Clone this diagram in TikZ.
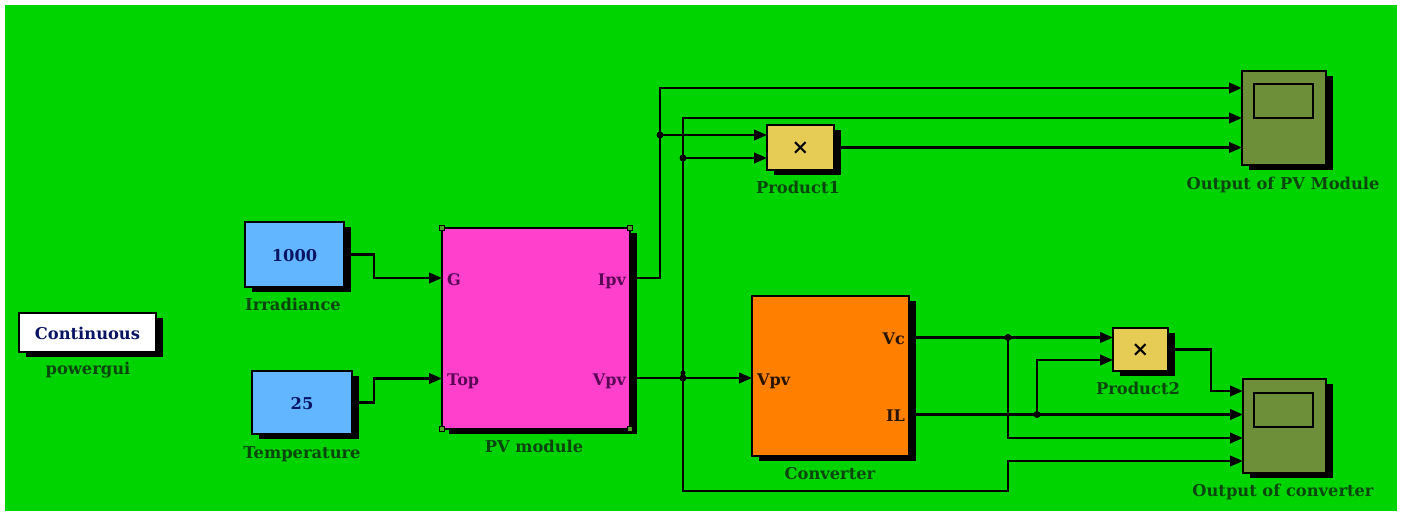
\documentclass[tikz,border=0pt]{standalone}
\usepackage{fontspec}
\setmainfont{DejaVu Serif}
\usetikzlibrary{arrows.meta,shadows}
\definecolor{bggreen}{RGB}{0,212,0}
\definecolor{pvpink}{RGB}{255,64,204}
\definecolor{convorange}{RGB}{255,128,0}
\definecolor{srcblue}{RGB}{98,182,255}
\definecolor{prodyellow}{RGB}{230,204,85}
\definecolor{scopeolive}{RGB}{110,143,58}
\definecolor{labelgreen}{RGB}{8,70,12}
\definecolor{portpurple}{RGB}{90,8,85}
\definecolor{srcnavy}{RGB}{10,20,100}
\tikzset{
	block/.style={draw=black, line width=2.4pt, inner sep=0pt, outer sep=0pt, rectangle, text height=14pt, text depth=0pt, font=\fontsize{16.3}{18}\selectfont\bfseries,
		general shadow={fill=black, shadow xshift=6.5pt, shadow yshift=-5pt}},
	caption/.style={text=labelgreen, inner sep=0pt, text height=14pt, text depth=0pt, font=\fontsize{16.3}{18}\selectfont\bfseries},
	port/.style={inner sep=0pt, text height=14pt, text depth=0pt, font=\fontsize{16}{18}\selectfont\bfseries},
	wire/.style={line width=2.4pt, -{Triangle[length=13pt,width=10.5pt]}},
	dot/.style={circle, fill=black, inner sep=0pt, minimum size=7pt},
	handle/.style={draw=black, line width=0.8pt, fill=scopeolive!70!bggreen, inner sep=0pt, minimum size=5pt}
}
\begin{document}
\begin{tikzpicture}[x=1pt,y=-1pt]
	\useasboundingbox (0,0) rectangle (1403,512);
	\fill [white] (0,0) rectangle (1403,512);
	\fill [bggreen] (5,5) rectangle (1397,511);
	% blocks
	\node (gui) at (87.5,332.5) [block, fill=white, text=srcnavy, minimum width=137pt, minimum height=39pt] {Continuous};
	\node (irr) at (294.5,254.5) [block, fill=srcblue, text=srcnavy, minimum width=99pt, minimum height=65pt] {1000};
	\node (temp) at (302,402.5) [block, fill=srcblue, text=srcnavy, minimum width=100pt, minimum height=63pt] {25};
	\node (pv) at (536,328.5) [block, fill=pvpink, minimum width=188pt, minimum height=201pt] {};
	\node (conv) at (830.5,376) [block, fill=convorange, minimum width=157pt, minimum height=160pt] {};
	\node (prodA) at (800.5,147.5) [block, fill=prodyellow, minimum width=67pt, minimum height=45pt] {\fontsize{21}{21}\selectfont ×};
	\node (prodB) at (1140.5,349.5) [block, fill=prodyellow, minimum width=55pt, minimum height=43pt] {\fontsize{21}{21}\selectfont ×};
	\node (scopeA) at (1284,118) [block, fill=scopeolive, minimum width=84pt, minimum height=94pt] {};
	\node (scopeB) at (1284.5,426) [block, fill=scopeolive, minimum width=83pt, minimum height=94pt] {};
	\node (screenA) at (1283.5,101) [draw=black, line width=2pt, minimum width=59pt, minimum height=34pt, inner sep=0pt] {};
	\node (screenB) at (1283.5,410) [draw=black, line width=2pt, minimum width=59pt, minimum height=34pt, inner sep=0pt] {};
	% handles
	\node (hA) at (pv.north west) [handle] {};
	\node (hB) at (pv.north east) [handle] {};
	\node (hC) at (pv.south west) [handle] {};
	\node (hD) at (pv.south east) [handle] {};
	% ports
	\node (pG) at (447,278) [port, anchor=west, text=portpurple] {G};
	\node (pTop) at (447,378.5) [port, anchor=west, text=portpurple] {Top};
	\node (pIpv) at (626,278) [port, anchor=east, text=portpurple] {Ipv};
	\node (pVpv) at (626,378) [port, anchor=east, text=portpurple] {Vpv};
	\node (cVpv) at (757,378.5) [port, anchor=west, text=black!85!convorange] {Vpv};
	\node (cVc) at (905,337.5) [port, anchor=east, text=black!85!convorange] {Vc};
	\node (cIL) at (905,414.5) [port, anchor=east, text=black!85!convorange] {IL};
	% captions
	\node (capgui) at (88,367.5) [caption] {powergui};
	\node (capirr) at (293,303.5) [caption] {Irradiance};
	\node (captemp) at (302,451.5) [caption] {Temperature};
	\node (cappv) at (534,445.5) [caption] {PV module};
	\node (capconv) at (830,472.5) [caption] {Converter};
	\node (capA) at (798,186.5) [caption] {Product1};
	\node (capB) at (1138,387.5) [caption] {Product2};
	\node (capsA) at (1283,182.5) [caption] {Output of PV Module};
	\node (capsB) at (1283,489.5) [caption] {Output of converter};
	% inputs of the scopes and products
	\coordinate (sA1) at (1242,88);
	\coordinate (sA2) at (1242,118);
	\coordinate (sA3) at (1242,148);
	\coordinate (sB1) at (1243,391);
	\coordinate (sB2) at (1243,414.5);
	\coordinate (sB3) at (1243,438);
	\coordinate (sB4) at (1243,461);
	\coordinate (pA1) at (767,135);
	\coordinate (pA2) at (767,158);
	\coordinate (pB1) at (1113,337.5);
	\coordinate (pB2) at (1113,360);
	% junctions
	\node (jA) at (660,135) [dot] {};
	\node (jB) at (683,158) [dot] {};
	\node (jC) at (683,378) [dot] {};
	\node (jCtop) at (683,373) [dot, minimum size=5pt] {};
	\node (jD) at (1008,337.5) [dot] {};
	\node (jE) at (1037,414.5) [dot] {};
	\coordinate (bendA) at (683,118);
	\coordinate (bendB) at (683,491);
	\coordinate (bendC) at (1008,491);
	\coordinate (bendD) at (1008,438);
	% connectors
	\draw [wire] (irr.east) -- (374,254.5) |- (pv.west |- pG);
	\draw [wire] (temp.east) -- (374,402.5) |- (pv.west |- pTop);
	\draw [wire] (pv.east |- pIpv) -| (jA.center) |- (sA1);
	\draw [wire] (jA.center) -- (pA1);
	\draw [wire] (pv.east |- pVpv) -- (conv.west |- pVpv);
	\draw [wire] (jC.center) -- (bendA) -- (sA2);
	\draw [wire] (jB.center) -- (pA2);
	\draw [wire] (jC.center) -- (bendB) -- (bendC) |- (sB4);
	\draw [wire] (prodA.east) -- (prodA.east -| sA3);
	\draw [wire] (conv.east |- cVc) -- (pB1);
	\draw [wire] (jD.center) -- (bendD) -- (sB3);
	\draw [wire] (conv.east |- cIL) -- (sB2);
	\draw [wire] (jE.center) |- (pB2);
	\draw [wire] (prodB.east) -- (1211,349.5) |- (sB1);
\end{tikzpicture}
\end{document}
